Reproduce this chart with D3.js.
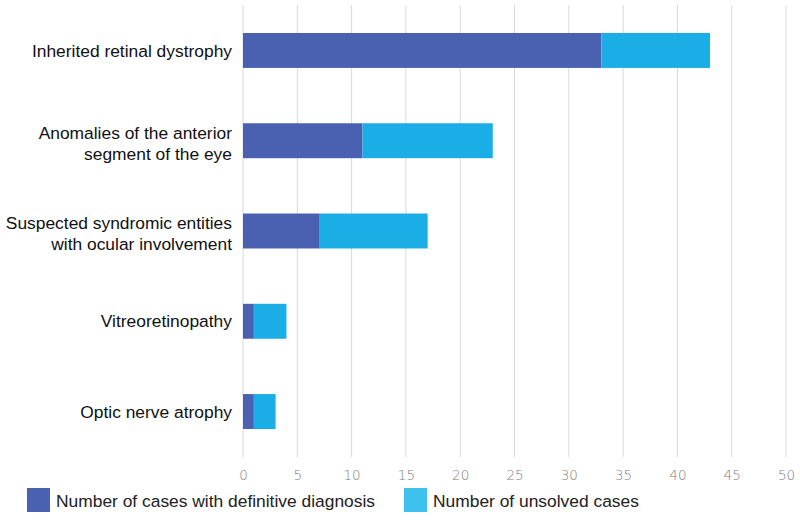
<!DOCTYPE html>
<html>
<head>
<meta charset="utf-8">
<script src="https://cdn.jsdelivr.net/npm/d3@7"></script>
<style>
  body { margin: 0; background: #fff; }
  .tick text { font-family: 'Century Gothic', 'DejaVu Sans', sans-serif; font-weight: 300; }
</style>
</head>
<body>
<div id="chart"></div>
<script>
// Data
let categories = [
  ['Inherited retinal dystrophy'],
  ['Anomalies of the anterior', 'segment of the eye'],
  ['Suspected syndromic entities', 'with ocular involvement'],
  ['Vitreoretinopathy'],
  ['Optic nerve atrophy']
];
let definitive = [33, 11, 7, 1, 1];
let unsolved = [10, 12, 10, 3, 2];
let seriesNames = ['Number of cases with definitive diagnosis', 'Number of unsolved cases'];
let xTicks = [0, 5, 10, 15, 20, 25, 30, 35, 40, 45, 50];

// SVG setup
let svgWidth = 800;
let svgHeight = 520;
let margin = { top: 5, right: 14, bottom: 63, left: 243 };
let width = svgWidth - margin.left - margin.right;
let height = svgHeight - margin.top - margin.bottom;

let colors = ['#4a61b2', '#1badE6'];

let svg = d3.select('#chart').append('svg')
  .attr('width', svgWidth)
  .attr('height', svgHeight);

let chartGroup = svg.append('g')
  .attr('transform', `translate(${margin.left}, ${margin.top})`);

// Scales
let xScale = d3.scaleLinear().domain([0, 50]).range([0, width]);
let yScale = d3.scaleBand()
  .domain(d3.range(categories.length))
  .range([0, height])
  .paddingInner(0.613)
  .paddingOuter(0.31);

// Gridlines
chartGroup.selectAll('.grid')
  .data(xTicks)
  .enter()
  .append('line')
  .attr('x1', d => xScale(d))
  .attr('x2', d => xScale(d))
  .attr('y1', 0)
  .attr('y2', height)
  .attr('stroke', '#d9d9d9')
  .attr('stroke-width', 1);

// x axis labels
let xAxis = chartGroup.append('g')
  .attr('transform', `translate(0, ${height})`)
  .call(d3.axisBottom(xScale).tickValues(xTicks).tickSize(0).tickPadding(13));
xAxis.select('.domain').remove();
xAxis.selectAll('text')
  .attr('fill', '#808080')
  .attr('font-size', '13.5px');

// Stacked bars
let stackData = categories.map((c, i) => ({ i: i, a: definitive[i], b: unsolved[i] }));
let stacked = d3.stack().keys(['a', 'b'])(stackData);

chartGroup.selectAll('.series')
  .data(stacked)
  .enter()
  .append('g')
  .attr('fill', (d, i) => colors[i])
  .selectAll('rect')
  .data(d => d)
  .enter()
  .append('rect')
  .attr('x', d => xScale(d[0]))
  .attr('width', d => xScale(d[1]) - xScale(d[0]))
  .attr('y', d => yScale(d.data.i))
  .attr('height', yScale.bandwidth());

// Category labels
let labelGroup = chartGroup.append('g');
categories.forEach(function(lines, i) {
  let cy = yScale(i) + yScale.bandwidth() / 2;
  let t = labelGroup.append('text')
    .attr('x', -11)
    .attr('y', cy - (lines.length - 1) * 8)
    .attr('text-anchor', 'end')
    .attr('font-family', 'Liberation Sans, Arial, sans-serif')
    .attr('font-size', '17.4px')
    .attr('fill', '#111');
  lines.forEach(function(line, j) {
    t.append('tspan')
      .attr('x', -11)
      .attr('dy', j === 0 ? '0.35em' : '21px')
      .text(line);
  });
});

// Legend
let legendX = [27, 404];
let legend = svg.append('g');
seriesNames.forEach(function(name, i) {
  legend.append('rect')
    .attr('x', legendX[i])
    .attr('y', 488)
    .attr('width', 23)
    .attr('height', 24)
    .attr('fill', i === 0 ? colors[0] : '#3fc1ee');
  legend.append('text')
    .attr('x', legendX[i] + 29)
    .attr('y', 501)
    .attr('dy', '0.35em')
    .attr('font-family', 'Liberation Sans, Arial, sans-serif')
    .attr('font-size', '17.4px')
    .attr('fill', '#222')
    .text(name);
});
</script>
</body>
</html>
